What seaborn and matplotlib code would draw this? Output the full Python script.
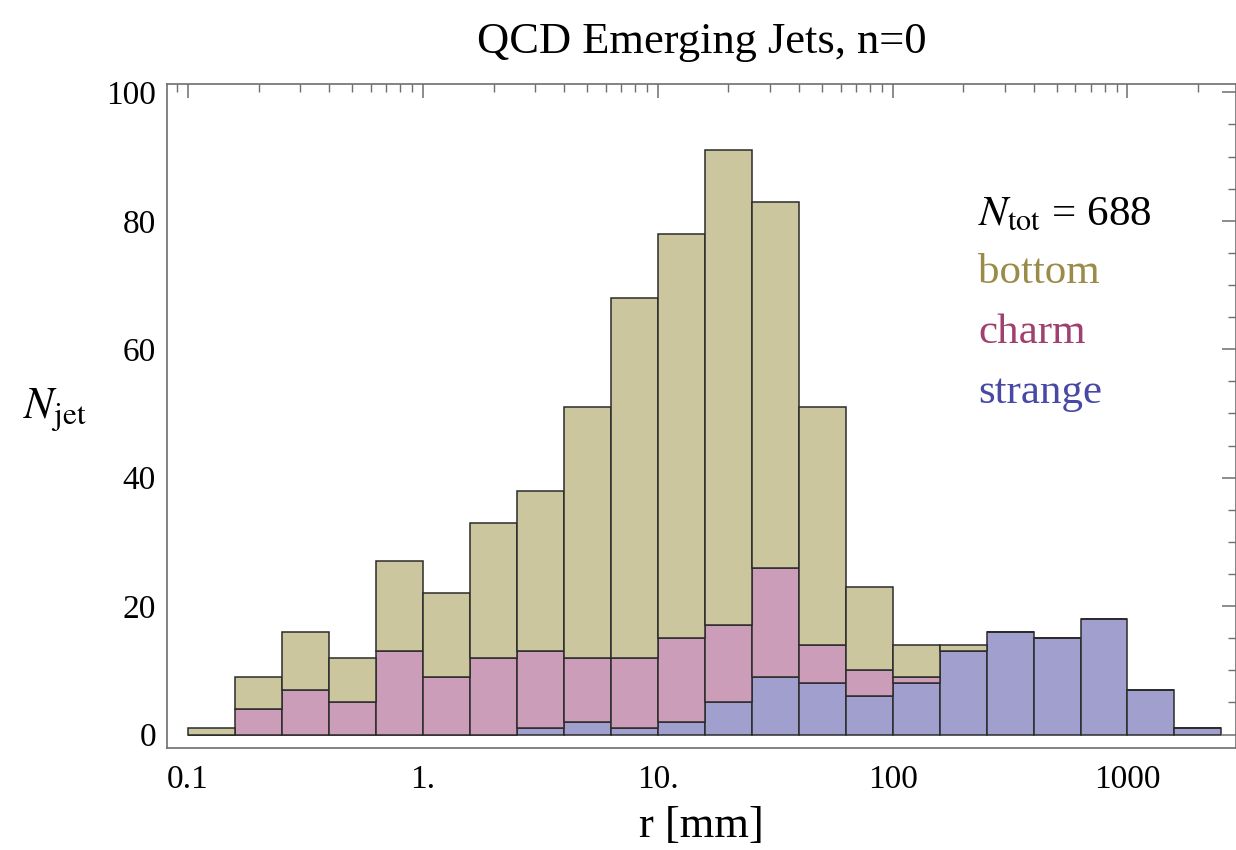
import numpy as np
import pandas as pd
import matplotlib
matplotlib.use("Agg")
import matplotlib.pyplot as plt
import matplotlib.ticker as mticker
import seaborn as sns

# ---- data (counts per log10 bin of width 0.2, from r = 0.1 mm) ----
log_lo, log_hi, n_bins = -1.0, 3.4, 22
bottom = [1, 5, 9, 7, 14, 13, 21, 25, 39, 56, 63, 74, 57, 37, 13, 5, 1, 0, 0, 0, 0, 0]
charm = [0, 4, 7, 5, 13, 9, 12, 12, 10, 11, 13, 12, 17, 6, 4, 1, 0, 0, 0, 0, 0, 0]
strange = [0, 0, 0, 0, 0, 0, 0, 1, 2, 1, 2, 5, 9, 8, 6, 8, 13, 16, 15, 18, 7, 1]
flavours = ["bottom", "charm", "strange"]
fill_colors = {"bottom": "#CCC69E", "charm": "#CC9DB8", "strange": "#A09FCE"}
text_colors = {"bottom": "#9A8C48", "charm": "#A0406F", "strange": "#4848A5"}
n_tot = 688
x_ticks = [0.1, 1, 10, 100, 1000]
x_ticklabels = ["0.1", "1.", "10.", "100", "1000"]
y_ticks = [0, 20, 40, 60, 80, 100]

edges_log = np.linspace(log_lo, log_hi, n_bins + 1)
centers = 10 ** (0.5 * (edges_log[:-1] + edges_log[1:]))
rows = []
for name, counts in zip(flavours, [bottom, charm, strange]):
    for c, n in zip(centers, counts):
        rows.append({"r": c, "n": n, "flavour": name})
df = pd.DataFrame(rows)

sns.set_theme(style="white")
plt.rcParams["font.family"] = ["Liberation Serif", "DejaVu Serif"]
plt.rcParams["mathtext.fontset"] = "stix"
plt.rcParams["text.color"] = "black"
plt.rcParams["axes.labelcolor"] = "black"

fig = plt.figure(figsize=(12.36, 8.5), dpi=100)
ax = fig.add_axes([167 / 1236, 1 - 748 / 850, (1236 - 167) / 1236, (748 - 84) / 850])

sns.histplot(data=df, x="r", weights="n", hue="flavour", hue_order=flavours,
             multiple="stack", bins=n_bins, binrange=(log_lo, log_hi),
             log_scale=True, palette=fill_colors, alpha=1.0,
             edgecolor="#2b2b2b", linewidth=1.1, legend=False, ax=ax)

ax.set_xscale("log")
ax.set_xlim(10 ** -1.0894, 10 ** 3.462)
ax.set_ylim(-2.09, 101.3)

ax.set_xticks(x_ticks)
ax.set_xticklabels(x_ticklabels)
ax.xaxis.set_minor_locator(mticker.LogLocator(base=10, subs=np.arange(2, 10), numticks=20))
ax.xaxis.set_minor_formatter(mticker.NullFormatter())
ax.set_yticks(y_ticks)
ax.yaxis.set_minor_locator(mticker.MultipleLocator(5))

for s in ax.spines.values():
    s.set_visible(True)
    s.set_color("#6e6e6e")
    s.set_linewidth(1.2)

ax.tick_params(which="both", direction="in", top=True, right=True, colors="#6e6e6e",
               labelcolor="black", labelsize=24)
ax.tick_params(which="major", length=10, width=1.1)
ax.tick_params(which="minor", length=5.5, width=1.0)
ax.tick_params(axis="x", which="major", pad=12)
ax.tick_params(axis="y", which="major", pad=8)
ax.tick_params(right=True, labelright=False, top=True, labeltop=False)

ax.set_xlabel("r [mm]", fontsize=32, labelpad=8, color="black")
ax.set_ylabel("")
fig.text(55 / 1236, 1 - 410 / 850, r"$N_{\rm jet}$", fontsize=32, ha="center", va="center",
         color="black")
ax.set_title("QCD Emerging Jets, n=0", fontsize=32, pad=22, color="black")

tx = 978 / 1236
fig.text(tx, 1 - 215 / 850, r"$N_{\rm tot}$ = 688", fontsize=31, ha="left", va="center",
         color="black")
for i, name in enumerate(flavours):
    fig.text(tx, 1 - (273 + 60 * i) / 850, name, fontsize=31, color=text_colors[name],
             ha="left", va="center")

ax.grid(False)
fig.savefig("out.png", dpi=100)
